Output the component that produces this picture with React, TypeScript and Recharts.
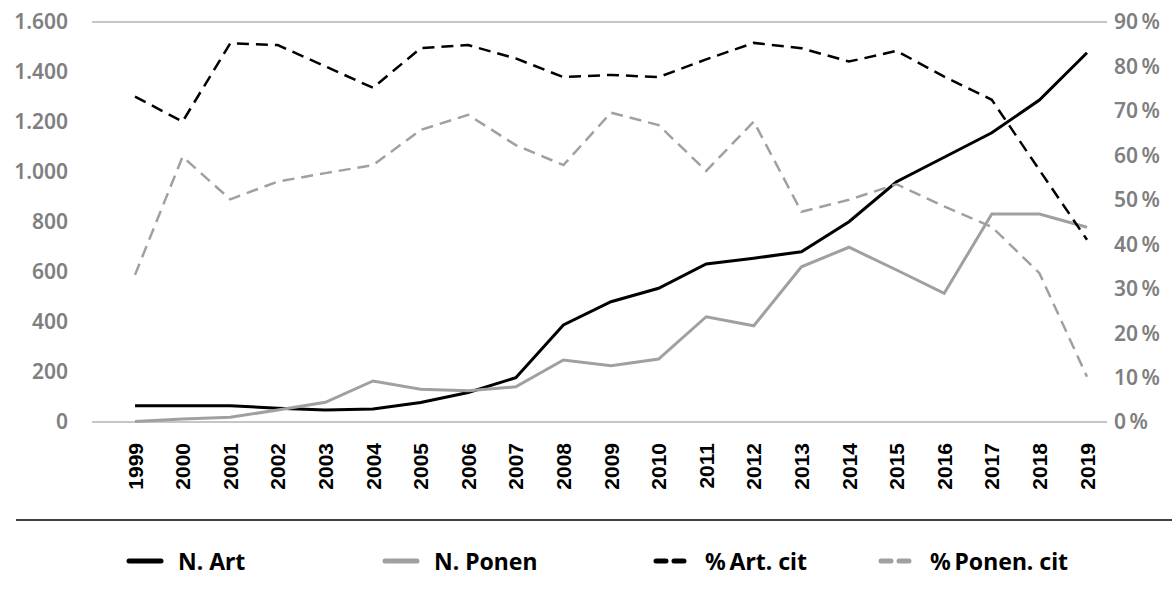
import React from "react";
import { LineChart, Line, XAxis, YAxis, CartesianGrid } from "recharts";

const years = ["1999","2000","2001","2002","2003","2004","2005","2006","2007","2008","2009","2010","2011","2012","2013","2014","2015","2016","2017","2018","2019"];
const nArt = [65,65,65,55,48,52,78,118,177,388,481,535,632,655,681,801,961,1059,1157,1288,1477];
const nPonen = [2,12,19,48,79,164,131,125,141,248,225,252,421,385,621,699,608,515,832,832,779];
const pctArt = [73.2,67.6,85.2,84.8,80,75.2,84.1,84.8,81.8,77.6,78.1,77.6,81.6,85.3,84.1,81.1,83.5,77.7,72.5,56.7,41];
const pctPonen = [33.1,59.7,50.1,54.1,56,57.8,65.7,69.1,62.3,57.8,69.6,66.8,56.5,67.6,47.3,50,53.5,48.5,43.9,33.5,10.2];
const leftTicks = [0,200,400,600,800,1000,1200,1400,1600];
const rightTicks = [0,10,20,30,40,50,60,70,80,90];

const data = years.map((y, i) => ({
  year: y,
  art: nArt[i],
  ponen: nPonen[i],
  pArt: pctArt[i],
  pPonen: pctPonen[i],
}));

const FONT = "'Noto Sans', sans-serif";
const BLACK = "#000000";
const GREY = "#a0a0a0";

const fmtLeft = (v: number) => v.toLocaleString("de-DE");
const fmtRight = (v: number) => `${v}\u2009%`;

const YearTick = (props: any) => {
  const { x, payload } = props;
  return (
    <text
      x={x + 7.5}
      y={443}
      transform={`rotate(-90, ${x + 7.5}, 443)`}
      textAnchor="end"
      fontFamily="'Liberation Sans', Arial, sans-serif"
      fontWeight={700}
      fontSize={21}
      fill="#000"
    >
      {payload.value}
    </text>
  );
};

const legendItems = [
  { label: "N. Art", color: BLACK, dashed: false, left: 126 },
  { label: "N. Ponen", color: GREY, dashed: false, left: 382 },
  { label: "%\u2009Art. cit", color: BLACK, dashed: true, left: 653 },
  { label: "%\u2009Ponen. cit", color: GREY, dashed: true, left: 878 },
];

export default function App() {
  return (
    <div style={{ position: "absolute", left: 0, top: 0, width: 1172, height: 597, background: "#fff" }}>
      <LineChart
        width={1172}
        height={520}
        data={data}
        margin={{ top: 22, right: 0, bottom: 0, left: 0 }}
      >
        <CartesianGrid vertical={false} stroke="#b3b3b3" strokeWidth={1.5} />
        <XAxis
          dataKey="year"
          interval={0}
          axisLine={false}
          tickLine={false}
          height={98}
          padding={{ left: 43, right: 20 }}
          tick={<YearTick />}
        />
        <YAxis
          yAxisId="left"
          orientation="left"
          width={92}
          domain={[0, 1600]}
          ticks={leftTicks}
          tickFormatter={fmtLeft}
          axisLine={false}
          tickLine={false}
          tickSize={0}
          tickMargin={24}
          tick={{ fill: "#7f7f7f", fontFamily: FONT, fontWeight: 600, fontSize: 21 }}
        />
        <YAxis
          yAxisId="right"
          orientation="right"
          width={65}
          domain={[0, 90]}
          ticks={rightTicks}
          tickFormatter={fmtRight}
          axisLine={false}
          tickLine={false}
          tickSize={0}
          tickMargin={7}
          tick={{ fill: "#7f7f7f", fontFamily: FONT, fontWeight: 600, fontSize: 21 }}
        />
        <Line yAxisId="left" type="linear" dataKey="art" stroke={BLACK} strokeWidth={3} dot={false} isAnimationActive={false} />
        <Line yAxisId="left" type="linear" dataKey="ponen" stroke={GREY} strokeWidth={3} dot={false} isAnimationActive={false} />
        <Line yAxisId="right" type="linear" dataKey="pArt" stroke={BLACK} strokeWidth={2.5} strokeDasharray="12 7" dot={false} isAnimationActive={false} />
        <Line yAxisId="right" type="linear" dataKey="pPonen" stroke={GREY} strokeWidth={2.5} strokeDasharray="12 7" dot={false} isAnimationActive={false} />
      </LineChart>
      <div style={{ position: "absolute", left: 16, top: 519, width: 1156, height: 0, borderTop: "2px solid #404040" }} />
      {legendItems.map((it) => (
        <div key={it.label} style={{ position: "absolute", left: it.left, top: 545, height: 32, display: "flex", alignItems: "center", whiteSpace: "nowrap" }}>
          <svg width={40} height={10} style={{ display: "block" }}>
            {it.dashed ? (
              <line x1={3} y1={5} x2={35} y2={5} stroke={it.color} strokeWidth={5} strokeLinecap="round" strokeDasharray="10 8" />
            ) : (
              <line x1={3} y1={5} x2={35} y2={5} stroke={it.color} strokeWidth={5} strokeLinecap="round" />
            )}
          </svg>
          <span style={{ marginLeft: 12, fontFamily: FONT, fontWeight: 700, fontSize: 23, color: "#000" }}>{it.label}</span>
        </div>
      ))}
    </div>
  );
}
